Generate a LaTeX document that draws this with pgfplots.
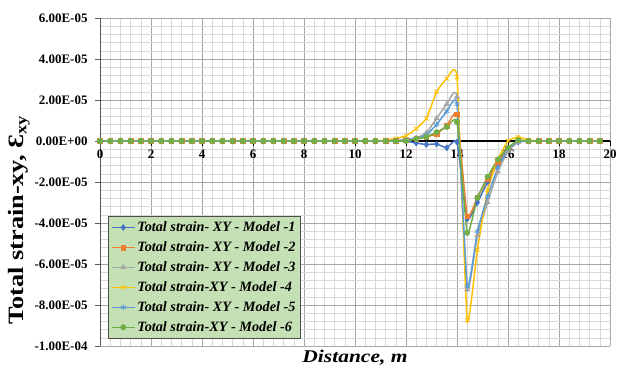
\documentclass[border=0pt]{standalone}
\usepackage{pgfplots}
\pgfplotsset{compat=1.18}
\usepackage{pgfplotstable}
\usepackage{graphicx}
\usepackage{fontspec}
\setmainfont{Liberation Serif}
\definecolor{cA}{HTML}{4472C4}
\definecolor{cB}{HTML}{ED7D31}
\definecolor{cC}{HTML}{A5A5A5}
\definecolor{cD}{HTML}{FFC000}
\definecolor{cE}{HTML}{5B9BD5}
\definecolor{cF}{HTML}{70AD47}
\definecolor{legfill}{HTML}{C5E0B4}
\definecolor{gmin}{HTML}{D9D9D9}
\definecolor{gmaj}{HTML}{A6A6A6}

\pgfplotstableread{
x m1 m2 m3 m4 m5 m6
0.0 0 0 0 0 0 0
0.4 0 0 0 0 0 0
0.8 0 0 0 0 0 0
1.2 0 0 0 0 0 0
1.6 0 0 0 0 0 0
2.0 0 0 0 0 0 0
2.4 0 0 0 0 0 0
2.8 0 0 0 0 0 0
3.2 0 0 0 0 0 0
3.6 0 0 0 0 0 0
4.0 0 0 0 0 0 0
4.4 0 0 0 0 0 0
4.8 0 0 0 0 0 0
5.2 0 0 0 0 0 0
5.6 0 0 0 0 0 0
6.0 0 0 0 0 0 0
6.4 0 0 0 0 0 0
6.8 0 0 0 0 0 0
7.2 0 0 0 0 0 0
7.6 0 0 0 0 0 0
8.0 0 0 0 0 0 0
8.4 0 0 0 0 0 0
8.8 0 0 0 0 0 0
9.2 0 0 0 0 0 0
9.6 0 0 0 0 0 0
10.0 0 0 0 0 0 0
10.4 0 0 0 0 0 0
10.8 0 0 0 0 0 0
11.2 0 0 0 0.05e-5 0 0
11.6 0 0 0.02e-5 0.12e-5 0 0
12.0 0 0.05e-5 0.08e-5 0.25e-5 0.05e-5 0
12.4 -0.1e-5 0.1e-5 0.15e-5 0.6e-5 0.12e-5 0.1e-5
12.8 -0.17e-5 0.2e-5 0.4e-5 1.1e-5 0.3e-5 0.2e-5
13.2 -0.15e-5 0.35e-5 1.1e-5 2.4e-5 0.8e-5 0.43e-5
13.6 -0.33e-5 0.75e-5 1.8e-5 3.05e-5 1.45e-5 0.69e-5
14.0 -0.05e-5 1.3e-5 2.15e-5 3.12e-5 1.8e-5 0.93e-5
14.4 -3.8e-5 -3.67e-5 -7.25e-5 -8.75e-5 -7.1e-5 -4.48e-5
14.8 -3.0e-5 -2.75e-5 -4.6e-5 -5.3e-5 -4.4e-5 -2.77e-5
15.2 -2.0e-5 -1.85e-5 -3.0e-5 -2.4e-5 -2.7e-5 -1.75e-5
15.6 -1.1e-5 -1.0e-5 -1.5e-5 -0.9e-5 -1.3e-5 -0.9e-5
16.0 -0.4e-5 -0.35e-5 -0.5e-5 0 -0.4e-5 -0.33e-5
16.4 -0.05e-5 0 -0.05e-5 0.2e-5 0 0.04e-5
16.8 0 0 0 0.05e-5 0 0
17.2 0 0 0 0 0 0
17.6 0 0 0 0 0 0
18.0 0 0 0 0 0 0
18.4 0 0 0 0 0 0
18.8 0 0 0 0 0 0
19.2 0 0 0 0 0 0
19.6 0 0 0 0 0 0
}\strain

\begin{document}
\begin{tikzpicture}
\path[use as bounding box] (0,0) rectangle (623bp,368bp);
\begin{axis}[
  at={(100bp,22bp)}, anchor=south west,
  scale only axis, width=510bp, height=328bp,
  xmin=0, xmax=20, ymin=-1e-4, ymax=6e-5,
  axis x line*=middle, axis y line*=left,
  hide obscured x ticks=false, hide obscured y ticks=false,
  xtick={0,2,...,20}, minor x tick num=4,
  ytick={-1e-4,-8e-5,-6e-5,-4e-5,-2e-5,0,2e-5,4e-5,6e-5},
  yticklabels={-1.00E-04,-8.00E-05,-6.00E-05,-4.00E-05,-2.00E-05,0.00E+00,2.00E-05,4.00E-05,6.00E-05},
  minor y tick num=4,
  scaled y ticks=false,
  grid=both,
  major grid style={gmaj, line width=0.6pt},
  minor grid style={gmin, line width=0.5pt},
  tick align=outside, major tick length=5bp, minor tick length=0pt,
  x axis line style={black, line width=1.3pt},
  y axis line style={gray!70!black, line width=0.7pt},
  xtick style={black, line width=0.8pt}, ytick style={gray!70!black, line width=0.6pt},
  tick label style={font=\fontsize{13}{15}\selectfont\bfseries},
  yticklabel style={xshift=-4bp},
  /pgf/number format/assume math mode=true,
  every axis x label/.style={at={(rel axis cs:0.5,0)}, anchor=north, yshift=-1bp,
     font=\fontsize{18}{20}\selectfont\bfseries\itshape},
  xlabel={\scalebox{1.2}[1]{Distance, m}},
  legend style={at={(rel axis cs:0.0157,0.396)}, anchor=north west, fill=legfill,
     draw=black!70, font=\fontsize{14.3}{15}\selectfont\bfseries\itshape,
     row sep=4.6bp, inner xsep=3bp, inner ysep=3.5bp},
  legend cell align=left,
  legend image code/.code={\draw[mark repeat=2,mark phase=2] plot coordinates {(0cm,0cm) (0.4cm,0cm) (0.8cm,0cm)};},
  every axis plot/.append style={line width=1.5pt, smooth, tension=0.25, mark size=2.6pt},
]
\addplot[cA, mark=diamond*, mark options={solid, fill=cA, line width=0.5pt}, mark size=3pt] table[x=x,y=m1]{\strain};
\addlegendentry{Total strain- XY - Model -1}
\addplot[cB, mark=square*, mark options={solid, fill=cB, line width=0.5pt}, mark size=2.3pt] table[x=x,y=m2]{\strain};
\addlegendentry{Total strain- XY - Model -2}
\addplot[cC, mark=triangle*, mark options={solid, fill=cC, line width=0.5pt}, mark size=3pt] table[x=x,y=m3]{\strain};
\addlegendentry{Total strain- XY - Model -3}
\addplot[cD, mark=x, mark options={solid, line width=0.8pt}, mark size=3pt] table[x=x,y=m4]{\strain};
\addlegendentry{Total strain-XY - Model -4}
\addplot[cE, mark=asterisk, mark options={solid, line width=0.8pt}, mark size=3pt] table[x=x,y=m5]{\strain};
\addlegendentry{Total strain- XY - Model -5}
\addplot[cF, mark=*, mark options={solid, fill=cF, line width=0.5pt}, mark size=2.7pt] table[x=x,y=m6]{\strain};
\addlegendentry{Total strain-XY - Model -6}
\end{axis}
\node[rotate=90, font=\fontsize{22}{24}\selectfont\bfseries] at (19bp,148bp)
  {\scalebox{1.2}[1]{Total strain-xy, Ɛ\textsubscript{xy}}};
\end{tikzpicture}
\end{document}
